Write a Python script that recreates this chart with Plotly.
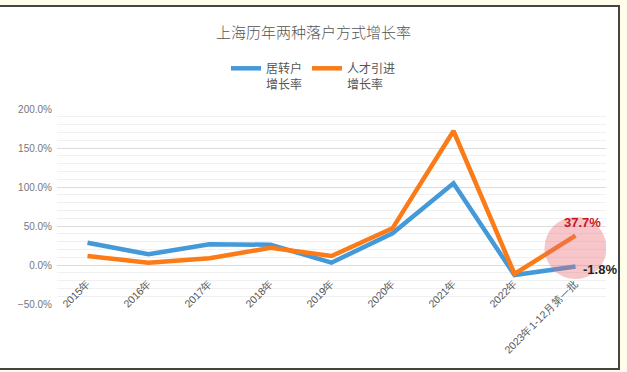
import plotly.graph_objects as go

categories = ["2015年", "2016年", "2017年", "2018年", "2019年", "2020年", "2021年", "2022年", "2023年1-12月第一批"]
juzhuanhu = [28.6, 13.7, 26.5, 26.0, 3.0, 40.6, 104.7, -12.8, -1.8]
rencai = [11.5, 3.0, 8.6, 22.0, 11.5, 47.0, 171.8, -11.5, 37.7]
series_names = ["居转户<br>增长率", "人才引进<br>增长率"]
title_text = "上海历年两种落户方式增长率"

W, H = 627, 372
L, R, T, B = 57, 21, 109, 68
plot_h = H - T - B

def py(p):
    return (H - B - p) / plot_h

def px(p):
    return (p - L) / (W - L - R)

fig = go.Figure()
fig.add_trace(go.Scatter(x=categories, y=juzhuanhu, name=series_names[0], mode="lines",
                         line=dict(color="#4499d9", width=4.5)))
fig.add_trace(go.Scatter(x=categories, y=rencai, name=series_names[1], mode="lines",
                         line=dict(color="#fa7b17", width=4.5)))

# frame
fig.add_shape(type="rect", xref="paper", yref="paper",
              x0=px(-2), x1=px(619), y0=py(369), y1=py(6),
              fillcolor="white", line=dict(color="#444", width=2), layer="below")

# highlight circle
fig.add_shape(type="circle", xref="x", yref="y", xsizemode="pixel", ysizemode="pixel",
              xanchor=8, yanchor=21.8, x0=-31, x1=31, y0=-31, y1=31,
              fillcolor="rgba(232,105,118,0.38)", line=dict(width=0), layer="above")

fig.add_annotation(x=8, y=rencai[8], text="<b>37.7%</b>", showarrow=False,
                   xshift=7, yshift=13, font=dict(size=13, color="#c8141e", family="Liberation Sans"))
fig.add_annotation(x=8, y=juzhuanhu[8], text="<b>-1.8%</b>", showarrow=False,
                   xanchor="left", xshift=5, yshift=-3, font=dict(size=13, color="#222", family="Liberation Sans"))

fig.update_layout(
    width=W, height=H,
    margin=dict(l=L, r=R, t=T, b=B, autoexpand=False),
    paper_bgcolor="#fffdea",
    plot_bgcolor="rgba(0,0,0,0)",
    title=dict(text=title_text, x=0.5, xref="container", xanchor="center",
               y=1 - 33 / H, yref="container", yanchor="middle",
               font=dict(size=15, color="#555", family="Noto Sans CJK SC", weight=300)),
    legend=dict(orientation="h", xref="container", x=0.5, xanchor="center",
                yref="container", y=1 - 54 / H, yanchor="top", valign="top",
                font=dict(size=12, color="#555", family="Noto Sans CJK SC"),
                itemwidth=30, tracegroupgap=0, bgcolor="rgba(0,0,0,0)"),
    showlegend=True,
    xaxis=dict(type="category", showgrid=False, showline=False, zeroline=False,
               anchor="free", position=py(265), tickangle=-45,
               ticks="outside", ticklen=7, tickcolor="rgba(0,0,0,0)",
               tickfont=dict(size=10.5, color="#555", family="Liberation Sans"),
               range=[-0.5, 8.5], automargin=False),
    yaxis=dict(range=[-50, 200], dtick=50, ticksuffix="%", tickformat=".1f",
               gridcolor="#dcdcdc", gridwidth=1, zeroline=True, zerolinecolor="#dcdcdc",
               zerolinewidth=1, showline=False, automargin=False, ticklabelstandoff=4,
               tickfont=dict(size=10, color="#777", family="Liberation Sans"),
               minor=dict(dtick=10, showgrid=True, gridcolor="#f0f0f0", gridwidth=1)),
)

fig.write_html("out.html", config={"displayModeBar": False},
               post_script="document.body.style.margin='0';document.body.style.background='#fffdea';")
